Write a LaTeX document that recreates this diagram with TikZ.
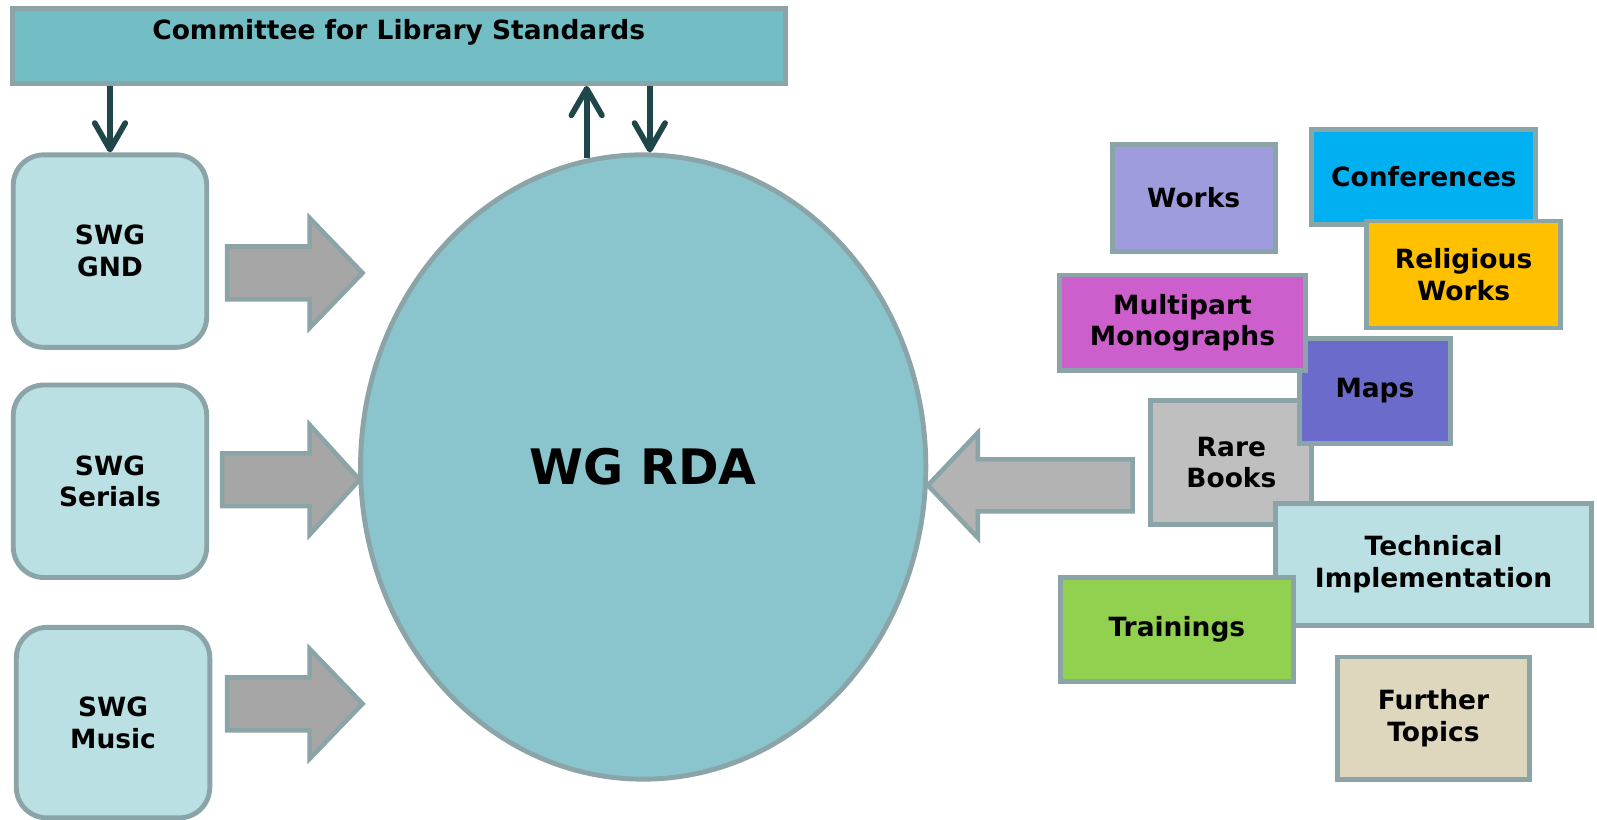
\documentclass[tikz,border=0pt]{standalone}
\usepackage{fontspec}
\setmainfont{DejaVu Sans}
\usetikzlibrary{shapes.geometric,arrows.meta,calc}
\definecolor{bord}{HTML}{8AA4A7}
\definecolor{commfill}{HTML}{72BEC4}
\definecolor{swgfill}{HTML}{BAE0E3}
\definecolor{wgfill}{HTML}{8AC5CD}
\definecolor{darkarr}{HTML}{1F4749}
\definecolor{barrfill}{HTML}{A6A6A6}
\definecolor{rarrfill}{HTML}{B3B3B3}
\definecolor{worksfill}{HTML}{9E9CDC}
\definecolor{conffill}{HTML}{00B0F0}
\definecolor{religfill}{HTML}{FFC000}
\definecolor{rarefill}{HTML}{BFBFBF}
\definecolor{mapsfill}{HTML}{6B6BCC}
\definecolor{multifill}{HTML}{CC5FCC}
\definecolor{techfill}{HTML}{BAE0E3}
\definecolor{trainfill}{HTML}{92D050}
\definecolor{furtherfill}{HTML}{DED6BD}
\newdimen\pxu
\pxu=0.5pt
\begin{document}
\begin{tikzpicture}[x=0.5pt,y=-0.5pt,
  lbl/.style={font=\bfseries\fontsize{13}{15.5}\selectfont, align=center, text=black},
  tbox/.style={draw=bord, line width=2.4pt, rectangle, inner sep=0pt, lbl},
  swg/.style={tbox, rounded corners=15pt, fill=swgfill, minimum width=190\pxu, minimum height=189\pxu},
  darr/.style={draw=darkarr, line width=2.8pt, -{Straight Barb[length=13pt,width=15pt,round]}},
  barr/.style={draw=bord, line width=2.2pt, fill=barrfill, line join=miter}]
\useasboundingbox (0,0) rectangle (1568,805);

% top committee box
\node[tbox, fill=commfill, minimum width=759\pxu, minimum height=74\pxu] (committee) at (391.5,45) {};
\node[lbl] (committeetext) at ($(committee.center)+(0,-13)$) {Committee for Library Standards};

% SWG boxes
\node[swg] (gnd) at (108,246.5) {SWG\\GND};
\node[swg] (serials) at (108,472.5) {SWG\\Serials};
\node[swg, minimum height=187\pxu] (music) at (111,709.5) {SWG\\Music};

% central ellipse
\node[ellipse, draw=bord, line width=2.4pt, fill=wgfill, minimum width=555\pxu, minimum height=613\pxu, inner sep=0pt,
      font=\bfseries\fontsize{24}{28}\selectfont] (wg) at (631.5,458.5) {WG RDA};

% dark arrows
\draw[darr] (committee.south -| gnd.north) -- (gnd.north);
\draw[darr] ($(wg.north)+(-55.5,6)$) -- ($(wg.north |- committee.south)+(-55.5,0)$);
\draw[darr] ($(wg.north |- committee.south)+(6.5,0)$) -- ($(wg.north)+(6.5,0)$);

% block arrows
\draw[barr] (223,242) -- (304,242) -- (304,214) -- (356,268) -- (304,322) -- (304,294) -- (223,294) -- cycle;
\draw[barr] (218,445) -- (304,445) -- (304,417) -- (353,471) -- (304,525) -- (304,497) -- (218,497) -- cycle;
\draw[barr] (223,665) -- (304,665) -- (304,637) -- (356,691) -- (304,745) -- (304,717) -- (223,717) -- cycle;
\draw[barr, fill=rarrfill] (1112,451) -- (960,451) -- (960,425) -- (911,476.5) -- (960,528) -- (960,502) -- (1112,502) -- cycle;

% topic boxes
\node[tbox, fill=worksfill, minimum width=160\pxu, minimum height=105\pxu] (works) at (1172,194.5) {Works};
\node[tbox, fill=conffill, minimum width=220\pxu, minimum height=93\pxu] (conf) at (1398,173.5) {Conferences};
\node[tbox, fill=religfill, minimum width=190\pxu, minimum height=105\pxu] (relig) at (1437,269.5) {Religious\\Works};
\node[tbox, fill=rarefill, minimum width=158\pxu, minimum height=122\pxu] (rare) at (1209,454) {Rare\\Books};
\node[tbox, fill=mapsfill, minimum width=148\pxu, minimum height=103\pxu] (maps) at (1350,383.5) {Maps};
\node[tbox, fill=multifill, minimum width=242\pxu, minimum height=94\pxu] (multi) at (1161,317) {Multipart\\Monographs};
\node[tbox, fill=techfill, minimum width=311\pxu, minimum height=120\pxu] (tech) at (1407.5,554) {Technical\\Implementation};
\node[tbox, fill=trainfill, minimum width=229\pxu, minimum height=102\pxu] (train) at (1155.5,618) {Trainings};
\node[tbox, fill=furtherfill, minimum width=189\pxu, minimum height=120\pxu] (further) at (1407.5,705) {Further\\Topics};
\end{tikzpicture}
\end{document}
